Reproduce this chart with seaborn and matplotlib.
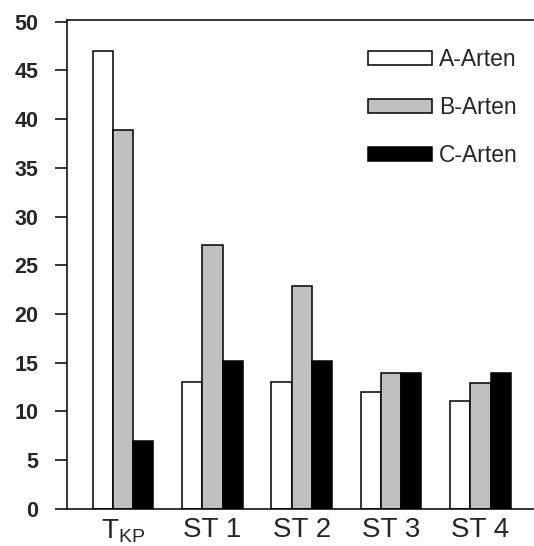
import pandas as pd
import matplotlib
matplotlib.use("Agg")
import matplotlib.pyplot as plt
import seaborn as sns

# data
categories = [r"T$_{\mathrm{KP}}$", "ST 1", "ST 2", "ST 3", "ST 4"]
groups = ["A-Arten", "B-Arten", "C-Arten"]
a_arten = [47.0, 13.0, 13.0, 12.0, 11.1]
b_arten = [38.9, 27.1, 22.9, 13.9, 12.9]
c_arten = [7.0, 15.2, 15.2, 13.9, 13.9]

df = pd.DataFrame({
    "Standort": categories * 3,
    "Gruppe": [g for g in groups for _ in categories],
    "Wert": a_arten + b_arten + c_arten,
})

sns.set_theme(style="white")
plt.rcParams["font.family"] = ["Liberation Sans", "DejaVu Sans"]
plt.rcParams["mathtext.fontset"] = "custom"
plt.rcParams["mathtext.rm"] = "Liberation Sans"
plt.rcParams["mathtext.it"] = "Liberation Sans:italic"

fig = plt.figure(figsize=(5.34, 5.46), dpi=100)
ax = fig.add_axes([0.125, 0.068, 0.875, 0.896])

palette = ["#ffffff", "#c0c0c0", "#000000"]
sns.barplot(data=df, x="Standort", y="Wert", hue="Gruppe", palette=palette,
            width=0.68, edgecolor="black", linewidth=1.1, saturation=1,
            ax=ax)

ax.set_ylim(0, 50.2)
ax.set_xlim(-0.63, 4.6)
ax.set_yticks(range(0, 51, 5))
ax.set_xlabel("")
ax.set_ylabel("")
ax.tick_params(axis="y", which="major", direction="out", length=8.5, width=1.1,
               color="black", labelsize=15.5, pad=12, left=True)
for lab in ax.get_yticklabels():
    lab.set_fontweight("bold")
ax.tick_params(axis="x", length=0, labelsize=20, pad=6)
for side in ["left", "bottom", "top"]:
    ax.spines[side].set_color("black")
    ax.spines[side].set_linewidth(1.1)
ax.spines["right"].set_visible(False)

leg = ax.legend(loc="upper right", bbox_to_anchor=(0.985, 0.96), frameon=False,
                fontsize=16.5, handlelength=2.8, handleheight=0.58,
                labelspacing=1.08, handletextpad=0.3, borderaxespad=0)

fig.savefig("out.png", dpi=100, facecolor="white")
